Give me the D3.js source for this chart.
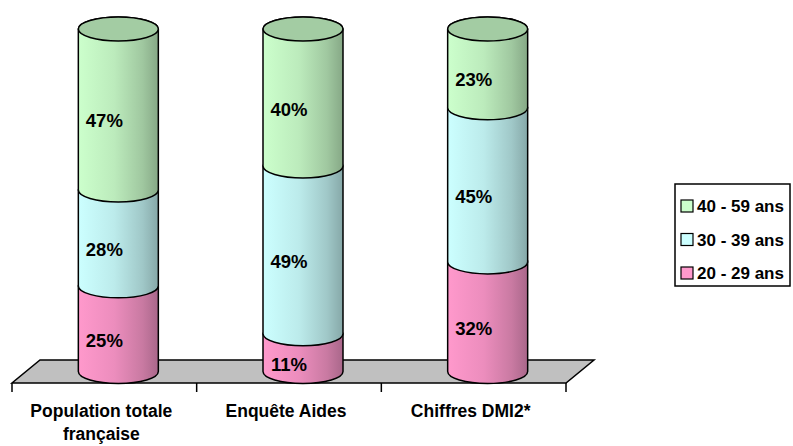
<!DOCTYPE html>
<html>
<head>
<meta charset="utf-8">
<script src="https://cdn.jsdelivr.net/npm/d3@7"></script>
<style>
  body { margin: 0; background: #fff; }
  text { font-family: "Liberation Sans", Arial, sans-serif; font-weight: bold; fill: #000; }
</style>
</head>
<body>
<svg id="chart" width="793" height="446"></svg>
<script>
// data
var categories = ['Population totale|française', 'Enquête Aides', 'Chiffres DMI2*'];
var seriesNames = ['20 - 29 ans', '30 - 39 ans', '40 - 59 ans'];
var ans20 = [25, 11, 32];
var ans30 = [28, 49, 45];
var ans40 = [47, 40, 23];

var rows = categories.map(function(c, i){
	return {cat: c, '20 - 29 ans': ans20[i], '30 - 39 ans': ans30[i], '40 - 59 ans': ans40[i]};
});

var svg = d3.select('#chart');
var depth = [28, -23];         // floor depth offset (x, y)
var rx = 40, ry = 12;          // cylinder radii

var x = d3.scaleBand().domain(categories).range([12, 566]);
var y = d3.scaleLinear().domain([0, 100]).range([383, 40.5]);

// colours: left light, right dark
var shades = {
	'20 - 29 ans': ['#ff99cc', '#ec8dbd', '#c97aa2', '#a9678a'],
	'30 - 39 ans': ['#ccffff', '#bcebeb', '#a0c8c8', '#86a8a8'],
	'40 - 59 ans': ['#ccffcc', '#bcebbc', '#a0c8a0', '#86a886']
};
var swatch = {'20 - 29 ans': '#ff99cc', '30 - 39 ans': '#ccffff', '40 - 59 ans': '#ccffcc'};
var topColor = '#a3cca3';

var defs = svg.append('defs');
seriesNames.forEach(function(s, i){
	var g = defs.append('linearGradient').attr('id', 'grad' + i)
		.attr('x1', '0%').attr('x2', '100%').attr('y1', '0%').attr('y2', '0%');
	var st = shades[s];
	[[0, st[0]], [0.45, st[1]], [0.8, st[2]], [1, st[3]]].forEach(function(p){
		g.append('stop').attr('offset', p[0]).attr('stop-color', p[1]);
	});
});

// floor
var fx0 = x.range()[0], fx1 = x.range()[1], fy = y(0);
svg.append('path')
	.attr('d', 'M' + fx0 + ',' + fy + 'L' + fx1 + ',' + fy +
		'L' + (fx1 + depth[0]) + ',' + (fy + depth[1]) +
		'L' + (fx0 + depth[0]) + ',' + (fy + depth[1]) + 'Z')
	.attr('fill', '#c0c0c0').attr('stroke', '#000').attr('stroke-width', 1.5);

// ticks at category boundaries
var tickX = categories.map(function(c){ return x(c); }).concat([fx1]);
svg.selectAll('line.tick').data(tickX).enter().append('line')
	.attr('class', 'tick')
	.attr('x1', function(d){ return d; }).attr('x2', function(d){ return d; })
	.attr('y1', fy).attr('y2', fy + 9)
	.attr('stroke', '#000').attr('stroke-width', 1.5);

var stack = d3.stack().keys(seriesNames)(rows);

// cylinder segments, bottom to top
function segPath(cx, yb, yt){
	return 'M' + (cx - rx) + ',' + yt + 'L' + (cx - rx) + ',' + yb +
		'A' + rx + ',' + ry + ' 0 0 0 ' + (cx + rx) + ',' + yb +
		'L' + (cx + rx) + ',' + yt +
		'A' + rx + ',' + ry + ' 0 0 0 ' + (cx - rx) + ',' + yt + 'Z';
}
var bars = svg.append('g');
stack.forEach(function(layer, li){
	layer.forEach(function(d){
		var cx = x(d.data.cat) + x.bandwidth() / 2 + depth[0] / 2;
		var yb = y(d[0]) + depth[1] / 2, yt = y(d[1]) + depth[1] / 2;
		bars.append('path')
			.attr('d', segPath(cx, yb, yt))
			.attr('fill', 'url(#grad' + li + ')')
			.attr('stroke', '#000').attr('stroke-width', 1.5);
		if (li == stack.length - 1) {
			bars.append('ellipse')
				.attr('cx', cx).attr('cy', yt).attr('rx', rx).attr('ry', ry)
				.attr('fill', topColor).attr('stroke', '#000').attr('stroke-width', 1.5);
		}
	});
});

// value labels on the front plane
stack.forEach(function(layer){
	svg.selectAll(null).data(layer).enter().append('text')
		.attr('x', function(d){ return x(d.data.cat) + x.bandwidth() / 2; })
		.attr('y', function(d){ return y((d[0] + d[1]) / 2) + 6.5; })
		.attr('text-anchor', 'middle')
		.style('font-size', '18.5px')
		.text(function(d){ return (d[1] - d[0]) + '%'; });
});

// category labels
categories.forEach(function(c){
	var t = svg.append('text')
		.attr('text-anchor', 'middle')
		.style('font-size', '17.5px');
	c.split('|').forEach(function(line, i){
		t.append('tspan')
			.attr('x', x(c) + x.bandwidth() / 2 - 3)
			.attr('y', 417 + i * 23)
			.text(line);
	});
});

// legend
var legend = svg.append('g').attr('transform', 'translate(675,184)');
legend.append('rect').attr('width', 115).attr('height', 102)
	.attr('fill', '#fff').attr('stroke', '#000').attr('stroke-width', 1.5);
var order = seriesNames.slice().reverse();
var items = legend.selectAll('g.item').data(order).enter().append('g')
	.attr('class', 'item')
	.attr('transform', function(d, i){ return 'translate(6,' + (22 + i * 33.5) + ')'; });
items.append('rect').attr('x', 0).attr('y', -6).attr('width', 12).attr('height', 12)
	.attr('fill', function(d){ return swatch[d]; })
	.attr('stroke', '#000').attr('stroke-width', 1.2);
items.append('text').attr('x', 16).attr('y', 6)
	.style('font-size', '17px')
	.text(function(d){ return d; });
</script>
</body>
</html>
